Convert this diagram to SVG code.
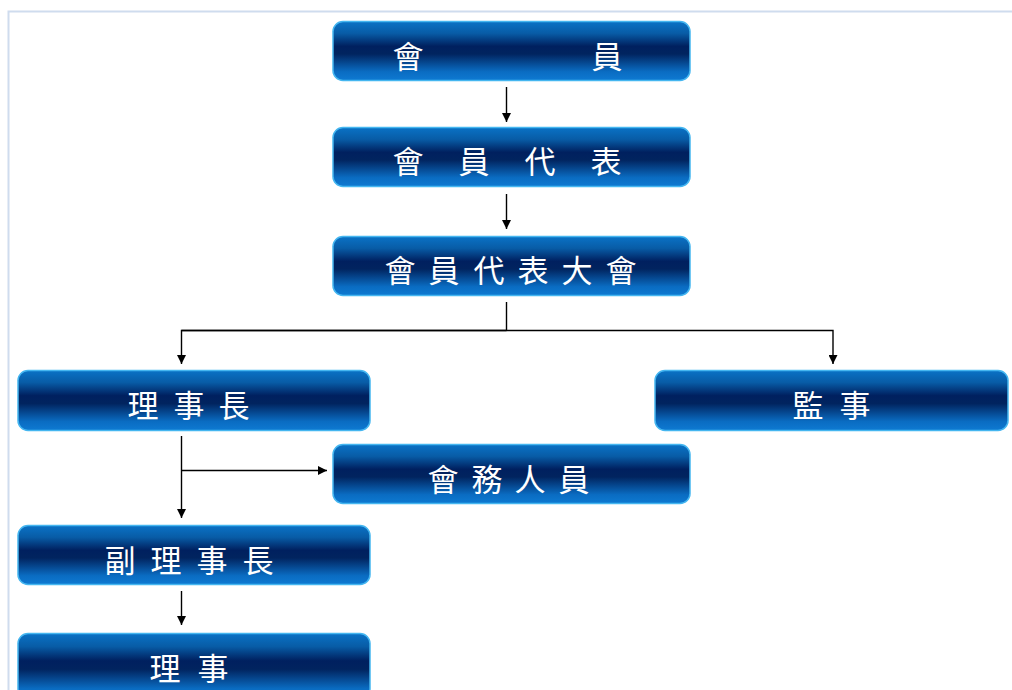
<svg xmlns="http://www.w3.org/2000/svg" width="1012" height="690" viewBox="0 0 1012 690">
<defs>
<linearGradient id="g" x1="0" y1="0" x2="0" y2="1">
<stop offset="0" stop-color="#0a72c6"/>
<stop offset="0.2" stop-color="#085ca6"/>
<stop offset="0.42" stop-color="#00205f"/>
<stop offset="0.55" stop-color="#01245f"/>
<stop offset="0.85" stop-color="#0a6cc2"/>
<stop offset="1" stop-color="#0e7ad2"/>
</linearGradient>
<marker id="ah" viewBox="0 0 10 10" refX="10" refY="5" markerWidth="9" markerHeight="9" markerUnits="userSpaceOnUse" orient="auto">
<path d="M0,0 L10,5 L0,10 z" fill="#000"/>
</marker>
<style>
.box{fill:url(#g);stroke:#45b6f0;stroke-width:1.5}
.t{font-family:"Noto Sans CJK TC","Noto Sans CJK SC",sans-serif;font-size:31px;fill:#fff;text-anchor:middle;dominant-baseline:central}
.c{fill:none;stroke:#000;stroke-width:1.4}
.ca{fill:none;stroke:#000;stroke-width:1.4;marker-end:url(#ah)}
</style>
</defs>
<rect width="1012" height="690" fill="#fff"/>
<path d="M8.5,690 V11.5 H1012" fill="none" stroke="#cfdcee" stroke-width="2"/>
<g id="connectors">
<line class="ca" x1="506.5" y1="87" x2="506.5" y2="122"/>
<line class="ca" x1="506.5" y1="194" x2="506.5" y2="229"/>
<path class="c" d="M506.5,302 V330.5"/>
<path class="ca" d="M181.5,330.5 H833 V364"/>
<path class="ca" d="M506.5,330.5 H181.5 V364"/>
<line class="ca" x1="181.5" y1="436" x2="181.5" y2="518"/>
<line class="ca" x1="181.5" y1="470.5" x2="327" y2="470.5"/>
<line class="ca" x1="181.5" y1="591" x2="181.5" y2="625"/>
</g>
<g id="n1"><rect class="box" x="333" y="21.5" width="357" height="59" rx="10"/>
<text class="t" x="408 607" y="54">會員</text></g>
<g id="n2"><rect class="box" x="333" y="127.5" width="357" height="59" rx="10"/>
<text class="t" x="408 474 540 606" y="159">會員代表</text></g>
<g id="n3"><rect class="box" x="333" y="236.5" width="357" height="59" rx="10"/>
<text class="t" x="400 444 489 533 577 621" y="268">會員代表大會</text></g>
<g id="n4"><rect class="box" x="18" y="370.5" width="352" height="60" rx="10"/>
<text class="t" x="143 189 234" y="403">理事長</text></g>
<g id="n5"><rect class="box" x="655" y="370.5" width="353" height="60" rx="10"/>
<text class="t" x="808 855" y="403">監事</text></g>
<g id="n6"><rect class="box" x="333" y="444.5" width="357" height="59" rx="10"/>
<text class="t" x="443 487 530 574" y="477">會務人員</text></g>
<g id="n7"><rect class="box" x="18" y="525.5" width="352" height="59" rx="10"/>
<text class="t" x="120 166 212 258" y="558">副理事長</text></g>
<g id="n8"><rect class="box" x="18" y="633.5" width="352" height="65" rx="10"/>
<text class="t" x="165 213" y="666">理事</text></g>
</svg>
